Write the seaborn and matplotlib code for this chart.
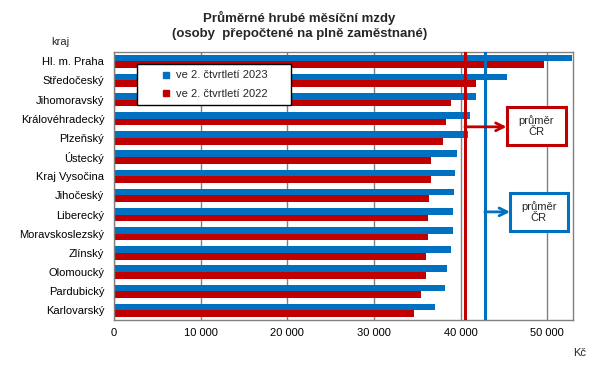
import pandas as pd
import matplotlib.pyplot as plt
import matplotlib.patches as mpatches
from matplotlib.lines import Line2D
from matplotlib.ticker import FuncFormatter
import seaborn as sns

# data
regions = ['Hl. m. Praha', 'Středočeský', 'Jihomoravský', 'Královéhradecký', 'Plzeňský',
           'Ústecký', 'Kraj Vysočina', 'Jihočeský', 'Liberecký', 'Moravskoslezský',
           'Zlínský', 'Olomoucký', 'Pardubický', 'Karlovarský']
wage_2023 = [52800, 45400, 41800, 41100, 40900, 39550, 39300, 39200, 39100, 39100,
             38950, 38400, 38250, 37000]
wage_2022 = [49600, 41800, 38850, 38300, 37950, 36550, 36550, 36300, 36200, 36200,
             35950, 35950, 35400, 34600]
avg_2023 = 42800
avg_2022 = 40500
series = ['ve 2. čtvrtletí 2023', 've 2. čtvrtletí 2022']

blue = '#0070C0'
red = '#C00000'

df = pd.DataFrame({
    'kraj': regions * 2,
    'mzda': wage_2023 + wage_2022,
    'obdobi': [series[0]] * len(regions) + [series[1]] * len(regions),
})

sns.set_style('white')
plt.rcParams['font.family'] = ['Liberation Sans', 'DejaVu Sans']

fig = plt.figure(figsize=(5.99, 3.66), dpi=100)
ax = fig.add_axes([0.1903, 0.1257, 0.7667, 0.733])

sns.barplot(data=df, y='kraj', x='mzda', hue='obdobi', hue_order=series,
            palette=[blue, red], orient='h', width=0.7, saturation=1, linewidth=0,
            dodge=True, ax=ax, legend=False)

ax.set_xlim(0, 53000)
ax.set_xticks(range(0, 50001, 10000))
ax.xaxis.set_major_formatter(FuncFormatter(lambda v, p: f'{int(v):,}'.replace(',', ' ')))
ax.grid(axis='x', color='#808080', lw=1)
ax.set_axisbelow(True)
for s in ax.spines.values():
    s.set_color('#808080')
    s.set_linewidth(1)
ax.tick_params(length=0, labelsize=8, colors='black')
ax.tick_params(axis='y', pad=7)
ax.tick_params(axis='x', pad=6)
ax.set_xlabel('')
ax.set_ylabel('')

# average lines
ax.axvline(avg_2022, color=red, lw=2.2, zorder=3)
ax.axvline(avg_2023, color=blue, lw=2.2, zorder=3)

# legend with small square markers
handles = [Line2D([], [], ls='none', marker='s', markersize=4.5, color=c) for c in (blue, red)]
leg = ax.legend(handles, series, loc='upper left', mode='expand',
                bbox_to_anchor=(0.05, 0.955, 0.335, 0.0),
                frameon=True, fancybox=False, edgecolor='black', framealpha=1,
                fontsize=8, handlelength=4.0, handletextpad=-1.1,
                labelspacing=0.75, borderpad=0.6, borderaxespad=0)
leg.get_frame().set_linewidth(1)
leg.set_zorder(6)

# "průměr ČR" boxes with arrows
def avg_box(x0, x1, y0, y1, ay, start, color):
    rect = mpatches.Rectangle((x0, y0), x1 - x0, y1 - y0, transform=ax.get_xaxis_transform(),
                              fill=True, facecolor='white', edgecolor=color, lw=2.2,
                              zorder=5, clip_on=False)
    ax.add_patch(rect)
    ax.text((x0 + x1) / 2, (y0 + y1) / 2, 'průměr\nČR', transform=ax.get_xaxis_transform(),
            ha='center', va='center', fontsize=8, zorder=6, linespacing=1.1)
    ax.annotate('', xy=(x0, ay), xytext=(start, ay), xycoords=ax.get_xaxis_transform(),
                textcoords=ax.get_xaxis_transform(),
                arrowprops=dict(arrowstyle='->', color=color, lw=2, shrinkA=0, shrinkB=0,
                                mutation_scale=14), zorder=5)

avg_box(45300, 52200, 0.653, 0.794, 0.72, avg_2022, red)
avg_box(45700, 52350, 0.33, 0.475, 0.403, avg_2023, blue)

fig.text(0.5, 0.952, 'Průměrné hrubé měsíční mzdy', ha='center', va='center',
         fontsize=9.5, fontweight='bold')
fig.text(0.5, 0.906, '(osoby  přepočtené na plně zaměstnané)', ha='center', va='center',
         fontsize=9.5, fontweight='bold')
fig.text(0.1, 0.885, 'kraj', ha='center', va='center', fontsize=8)
fig.text(0.968, 0.035, 'Kč', ha='center', va='center', fontsize=8)

fig.savefig('out.png', dpi=100)
